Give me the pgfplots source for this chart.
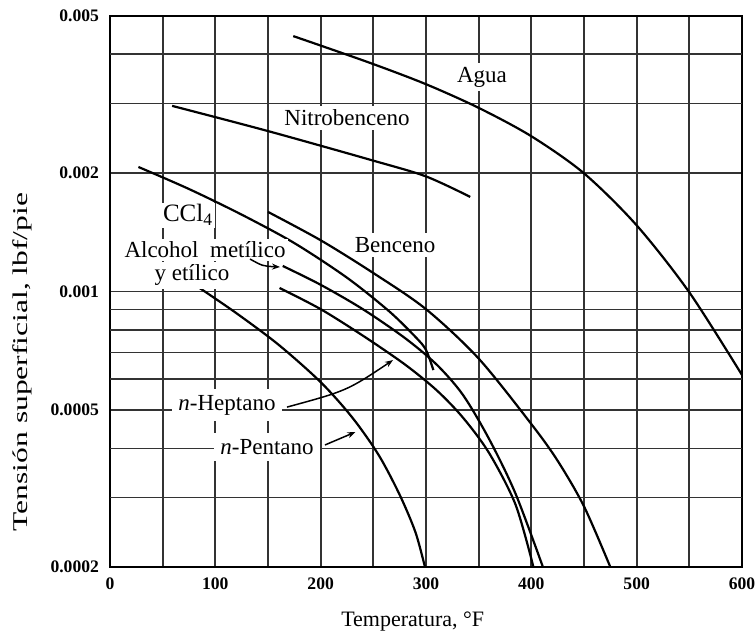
\documentclass[border=0pt]{standalone}
\usepackage{fontspec}
\setmainfont{Liberation Serif}
\usepackage{pgfplots}
\pgfplotsset{compat=1.18}
\usetikzlibrary{arrows.meta}
\newcommand{\lab}{\fontsize{11.5}{13}\selectfont}
\pgfplotsset{curve/.style={black, line width=1.1pt, smooth, tension=0.5, mark=none, solid}}
\begin{document}
\begin{tikzpicture}
\useasboundingbox (-55pt,-35pt) rectangle (322.5pt,283.5pt);
\begin{axis}[
  at={(0,0)}, anchor=south west,
  scale only axis, width=316pt, height=275.5pt,
  xmin=0, xmax=600, ymode=log, ymin=0.0002, ymax=0.005,
  xtick={0,100,...,600}, minor xtick={50,150,...,550},
  ytick={0.0002,0.0005,0.001,0.002,0.005},
  yticklabels={0.0002,0.0005,0.001,0.002,0.005},
  extra y ticks={0.0003,0.0004,0.0006,0.0007,0.0008,0.0009,0.003,0.004},
  extra y tick labels={},
  extra y tick style={grid=major},
  xmajorgrids=true, xminorgrids=true, ymajorgrids=true, yminorgrids=false,
  major grid style={black!80, line width=0.85pt},
  minor grid style={black!80, line width=0.85pt},
  major tick length=0pt, minor tick length=0pt,
  axis line style={line width=1.4pt},
  /pgf/number format/assume math mode=true,
  ticklabel style={font=\fontsize{8.8}{10}\selectfont\bfseries},
  yticklabel style={xshift=-2pt},
  xticklabel style={yshift=-1.8pt},
  xlabel={Temperatura, °F},
  xlabel style={at={(axis description cs:0.479,-0.0998)}, anchor=center, font=\fontsize{11}{13}\selectfont},
  ylabel={\scalebox{1.5}[1]{Tensión superficial, lbf/pie}},
  ylabel style={at={(axis description cs:-0.139,0.372)}, anchor=center, font=\fontsize{10.5}{12}\selectfont},
  clip=true,
]
% Agua
\addplot[curve] coordinates {(174,0.004446) (200,0.004207) (250,0.003776) (300,0.003357) (350,0.002924) (400,0.002477) (450,0.001995) (500,0.001472) (550,0.000995) (600,0.000614)};
% Nitrobenceno
\addplot[curve] coordinates {(59,0.002958) (150,0.002553) (250,0.002148) (300,0.001959) (342,0.001738)};
% CCl4
\addplot[curve] coordinates {(27,0.002070) (75,0.001820) (125,0.001567) (175,0.001327) (225,0.001084) (265,0.000891) (290,0.000767) (300,0.000711) (307,0.000632)};
% Benceno
\addplot[curve] coordinates {(150,0.001592) (200,0.001349) (250,0.001114) (300,0.000902) (350,0.000676) (400,0.000461) (425,0.000372) (450,0.000285) (475,0.0002)};
% Alcohol metilico y etilico
\addplot[curve] coordinates {(164,0.001161) (200,0.001040) (240,0.000902) (280,0.000762) (310,0.000653) (335,0.000547) (360,0.000422) (385,0.000307) (411,0.0002)};
% n-Heptano
\addplot[curve] coordinates {(161,0.001021) (200,0.000902) (240,0.000773) (280,0.000653) (310,0.000562) (335,0.000479) (360,0.000389) (385,0.000288) (402,0.0002)};
% n-Pentano
\addplot[curve] coordinates {(85,0.001021) (120,0.000881) (160,0.000733) (200,0.000589) (230,0.000479) (255,0.000385) (275,0.000305) (290,0.000245) (299,0.0002)};
% labels
\node[fill=white, inner sep=2pt, font=\lab] at (axis cs:353.2,0.0035) {Agua};
\node[fill=white, inner sep=2pt, font=\lab] at (axis cs:225,0.002755) {Nitrobenceno};
\node[fill=white, inner sep=1pt, font=\fontsize{12.5}{14}\selectfont] at (axis cs:74.1,0.001563) {CCl\textsubscript{4}};
\node[fill=white, inner sep=1.5pt, font=\lab] at (axis cs:90.2,0.001274) {Alcohol \ metílico};
\node[fill=white, inner sep=1.5pt, font=\lab] at (axis cs:77.8,0.001101) {y etílico};
\node[fill=white, inner sep=2pt, font=\lab] at (axis cs:270.6,0.001312) {Benceno};
\node[fill=white, inner sep=3pt, font=\lab] at (axis cs:111.1,0.000515) {\textit{n}-Heptano};
\node[fill=white, inner sep=3pt, font=\lab] at (axis cs:149.1,0.000403) {\textit{n}-Pentano};
% arrows
\draw[black, line width=0.75pt, -{Stealth[length=4pt,width=3pt]}] (axis cs:132.9,0.001209) .. controls (axis cs:145,0.00116) .. (axis cs:161.4,0.001154);
\draw[black, line width=0.75pt, -{Stealth[length=4pt,width=3pt]}] (axis cs:168,0.000509) .. controls (axis cs:225,0.00056) .. (axis cs:268.7,0.00067);
\draw[black, line width=0.75pt, -{Stealth[length=4pt,width=3pt]}] (axis cs:204.1,0.000408) -- (axis cs:233,0.00044);
\end{axis}
\end{tikzpicture}
\end{document}
